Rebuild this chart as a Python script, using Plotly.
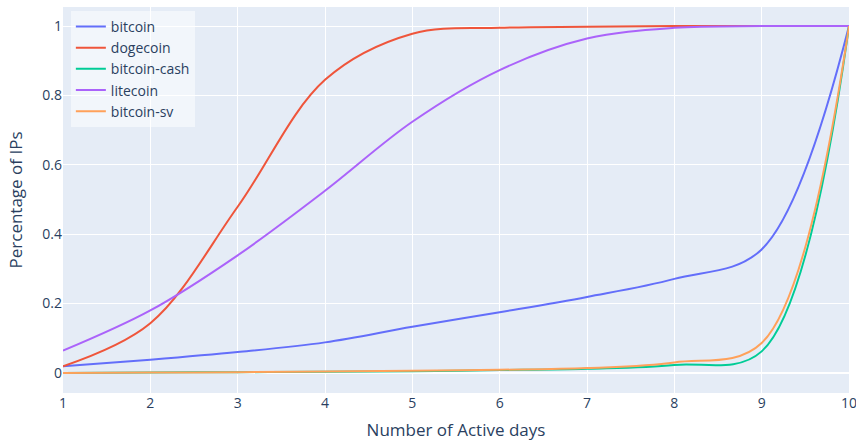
import plotly.graph_objects as go

# Number of active days
days = [1, 2, 3, 4, 5, 6, 7, 8, 9, 10]

# cumulative share of IPs per coin
bitcoin = [0.019, 0.038, 0.06, 0.088, 0.133, 0.175, 0.219, 0.271, 0.356, 1.0]
dogecoin = [0.019, 0.143, 0.479, 0.845, 0.978, 0.995, 0.998, 1.0, 1.0, 1.0]
bitcoin_cash = [0.0, 0.001, 0.002, 0.003, 0.005, 0.008, 0.012, 0.023, 0.062, 1.0]
litecoin = [0.064, 0.18, 0.339, 0.525, 0.724, 0.873, 0.964, 0.995, 1.0, 1.0]
bitcoin_sv = [0.0, 0.001, 0.002, 0.004, 0.006, 0.009, 0.014, 0.03, 0.086, 1.0]

series = [
    ("bitcoin", bitcoin),
    ("dogecoin", dogecoin),
    ("bitcoin-cash", bitcoin_cash),
    ("litecoin", litecoin),
    ("bitcoin-sv", bitcoin_sv),
]

fig = go.Figure()
for name, vals in series:
    fig.add_trace(go.Scatter(x=days, y=vals, mode="lines", name=name,
                             line_shape="spline"))

fig.update_layout(
    width=856, height=441,
    font=dict(size=14),
    margin=dict(l=63, r=7, t=7, b=48),
    legend=dict(x=0.01, y=0.99, bgcolor="rgba(255,255,255,0.5)"),
    xaxis_title="Number of Active days",
    yaxis_title="Percentage of IPs",
)
fig.update_xaxes(range=[1, 10], dtick=1, automargin=False,
                 ticklabeloverflow="allow")
fig.update_yaxes(range=[-0.058, 1.055], automargin=False)

# drop the default page margin so the figure sits at the top-left corner
fig.write_html("out.html", config={"displayModeBar": False},
               post_script="document.body.style.margin='0';")
